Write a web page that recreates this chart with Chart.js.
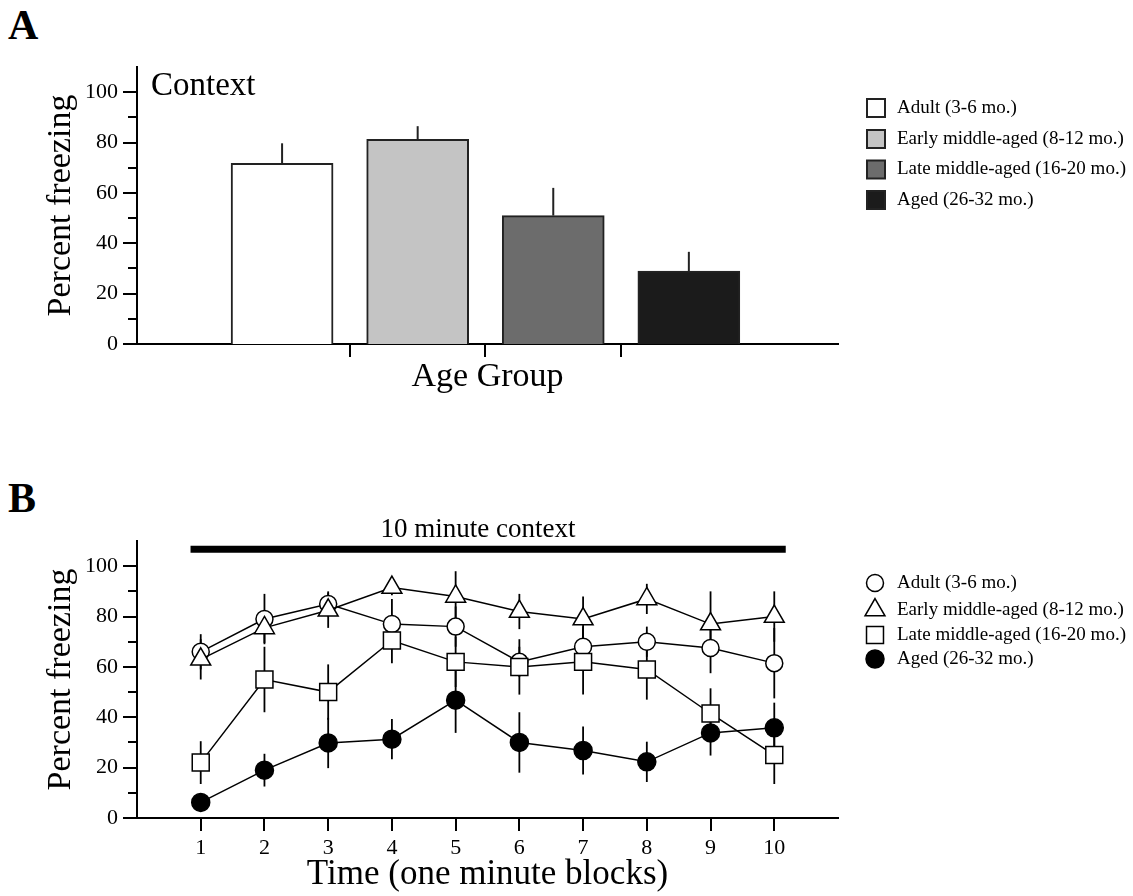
<!DOCTYPE html>
<html>
<head>
<meta charset="utf-8">
<script src="https://cdn.jsdelivr.net/npm/chart.js@4.4.1/dist/chart.umd.min.js"></script>
<style>
  body { margin: 0; background: #fff; width: 1133px; height: 896px; overflow: hidden; position: relative; }
  .panel-label { position: absolute; left: 8px; font-family: 'Liberation Serif', serif; font-weight: bold; font-size: 42px; line-height: 42px; }
  #chartA { position: absolute; left: 0; top: 0; }
  #chartB { position: absolute; left: 0; top: 440px; }
</style>
</head>
<body>
<div class="panel-label" style="top:4px">A</div>
<div class="panel-label" style="top:477px">B</div>
<canvas id="chartA" width="1133" height="440"></canvas>
<canvas id="chartB" width="1133" height="456"></canvas>
<script>
const FONT = "'Liberation Serif', 'Times New Roman', serif";

// groups shared by both panels
const groups = ['Adult (3-6 mo.)', 'Early middle-aged (8-12 mo.)', 'Late middle-aged (16-20 mo.)', 'Aged (26-32 mo.)'];

// panel A - context freezing per age group
const barPos = [1, 2, 3, 4];
const contextMean = [71.7, 81.3, 51.0, 29.0];
const contextSem = [8.0, 5.2, 11.0, 7.6];
const barColors = ['#ffffff', '#c4c4c4', '#6c6c6c', '#1b1b1b'];
const groupTicks = [1.5, 2.5, 3.5];

// y axis ticks (both panels)
const yTicks = [0, 20, 40, 60, 80, 100];
const yMinor = [10, 30, 50, 70, 90];

// panel B - freezing across the 10 minute context test
const blocks = [1, 2, 3, 4, 5, 6, 7, 8, 9, 10];
const adult = [66, 79, 85, 77, 76, 62, 68, 70, 67.5, 61.5];
const adultSem = [7, 10, 5, 10, 8, 6, 8, 6, 10, 14];
const earlyMid = [63, 75.5, 82.5, 91.5, 88, 82, 79, 87, 77, 80];
const earlyMidSem = [8, 6, 7, 3, 10, 7, 9, 6, 13, 10];
const lateMid = [22, 55, 50, 70.5, 62, 60, 62, 59, 41.5, 25];
const lateMidSem = [8.5, 13, 11, 9, 10, 11, 13, 12, 10, 11.5];
const aged = [6.2, 19, 29.8, 31.3, 46.8, 30, 26.8, 22.3, 33.8, 35.8];
const agedSem = [2, 6.5, 10, 8, 13, 12, 9.5, 8, 9, 10];
const contextSpan = [0.84, 10.18];
const contextLevel = 106.7;

function yTickPlugin() {
  return {
    id: 'yTickMarks',
    afterDraw(chart) {
      const ctx = chart.ctx, y = chart.scales.y, left = chart.chartArea.left;
      ctx.save();
      ctx.strokeStyle = '#000';
      ctx.lineWidth = 2;
      const mark = (v, len) => {
        const py = Math.round(y.getPixelForValue(v));
        ctx.beginPath(); ctx.moveTo(left - len, py); ctx.lineTo(left, py); ctx.stroke();
      };
      yTicks.forEach(v => mark(v, 14));
      yMinor.forEach(v => mark(v, 9));
      ctx.restore();
    }
  };
}

function yScale() {
  return {
    min: 0, max: 110,
    afterFit(s) { s.width = 137; },
    afterBuildTicks(s) { s.ticks = yTicks.map(v => ({ value: v })); },
    grid: { display: false, drawTicks: false },
    border: { display: true, color: '#000', width: 2 },
    ticks: { color: '#000', padding: 19, font: { family: FONT, size: 22 } },
    title: { display: true, text: 'Percent freezing', color: '#000', font: { family: FONT, size: 34 }, padding: { top: 41, bottom: 0 } }
  };
}

// ---------- Panel A ----------
new Chart(document.getElementById('chartA'), {
  type: 'bar',
  data: {
    datasets: [{
      data: barPos.map((x, i) => ({ x: x, y: contextMean[i] })),
      sem: contextSem,
      backgroundColor: barColors,
      borderColor: '#222',
      borderWidth: 2,
      barThickness: 102
    }]
  },
  options: {
    responsive: false, animation: false, events: [], devicePixelRatio: 1,
    layout: { padding: { top: 67, right: 295, left: 0, bottom: 0 } },
    plugins: { legend: { display: false }, tooltip: { enabled: false } },
    scales: {
      x: {
        type: 'linear', min: -0.07, max: 5.1, offset: false,
        afterFit(s) { s.height = 96; },
        afterBuildTicks(s) { s.ticks = groupTicks.map(v => ({ value: v })); },
        grid: { display: true, offset: false, drawOnChartArea: false, drawTicks: true, tickLength: 13, color: '#000', lineWidth: 2 },
        border: { display: true, color: '#000', width: 2 },
        ticks: { callback: () => '' },
        title: { display: true, text: 'Age Group', color: '#000', font: { family: FONT, size: 34 }, padding: { top: 0, bottom: 43 } }
      },
      y: yScale()
    }
  },
  plugins: [yTickPlugin(), {
    id: 'extrasA',
    afterDatasetsDraw(chart) {
      const ctx = chart.ctx, y = chart.scales.y;
      const meta = chart.getDatasetMeta(0);
      const ds = chart.data.datasets[0];
      ctx.save();
      ctx.strokeStyle = '#222';
      ctx.lineWidth = 2;
      meta.data.forEach((bar, i) => {
        const top = y.getPixelForValue(ds.data[i].y + ds.sem[i]);
        ctx.beginPath(); ctx.moveTo(bar.x, bar.y); ctx.lineTo(bar.x, top); ctx.stroke();
      });
      ctx.fillStyle = '#000';
      ctx.font = '33px ' + FONT;
      ctx.textBaseline = 'alphabetic';
      ctx.fillText('Context', 151, 95);
      // legend
      const rows = [108, 139, 169.5, 200];
      ctx.font = '19px ' + FONT;
      ctx.textBaseline = 'middle';
      groups.forEach((g, i) => {
        ctx.fillStyle = barColors[i];
        ctx.fillRect(867, rows[i] - 9, 18, 18);
        ctx.strokeStyle = '#222';
        ctx.lineWidth = 2;
        ctx.strokeRect(867, rows[i] - 9, 18, 18);
        ctx.fillStyle = '#000';
        ctx.fillText(g, 897, rows[i]);
      });
      ctx.restore();
    }
  }]
});

// ---------- Panel B ----------
const series = [
  { label: groups[0], values: adult, sem: adultSem, style: 'circle', radius: 8.5, fill: '#fff', order: 2 },
  { label: groups[1], values: earlyMid, sem: earlyMidSem, style: 'triangle', radius: 11.5, fill: '#fff', order: 1 },
  { label: groups[2], values: lateMid, sem: lateMidSem, style: 'rect', radius: 12, fill: '#fff', order: 0 },
  { label: groups[3], values: aged, sem: agedSem, style: 'circle', radius: 9, fill: '#000', order: 3 }
];

const datasetsB = series.map(s => ({
  type: 'line',
  label: s.label,
  data: blocks.map((b, i) => ({ x: b, y: s.values[i] })),
  sem: s.sem,
  order: s.order,
  borderColor: '#000',
  borderWidth: 1.5,
  pointStyle: s.style,
  pointRadius: s.radius,
  pointBackgroundColor: s.fill,
  pointBorderColor: '#000',
  pointBorderWidth: 1.5,
  tension: 0
}));
datasetsB.push({
  type: 'line',
  label: '10 minute context',
  data: contextSpan.map(x => ({ x: x, y: contextLevel })),
  order: 5,
  borderColor: '#000',
  borderWidth: 7,
  borderCapStyle: 'butt',
  pointRadius: 0
});

new Chart(document.getElementById('chartB'), {
  type: 'line',
  data: { datasets: datasetsB },
  options: {
    responsive: false, animation: false, events: [], devicePixelRatio: 1,
    layout: { padding: { top: 101, right: 295, left: 0, bottom: 0 } },
    plugins: { legend: { display: false }, tooltip: { enabled: false } },
    scales: {
      x: {
        type: 'linear', min: 0, max: 11,
        afterFit(s) { s.height = 78; },
        afterBuildTicks(s) { s.ticks = blocks.map(v => ({ value: v })); },
        grid: { display: true, drawOnChartArea: false, drawTicks: true, tickLength: 13, color: '#000', lineWidth: 2 },
        border: { display: true, color: '#000', width: 2 },
        ticks: { color: '#000', padding: 4, font: { family: FONT, size: 22 } },
        title: { display: true, text: 'Time (one minute blocks)', color: '#000', font: { family: FONT, size: 35 }, padding: { top: 0, bottom: 0 } }
      },
      y: yScale()
    }
  },
  plugins: [yTickPlugin(), {
    id: 'extrasB',
    beforeDatasetsDraw(chart) {
      const ctx = chart.ctx, y = chart.scales.y;
      ctx.save();
      ctx.strokeStyle = '#000';
      ctx.lineWidth = 1.8;
      chart.data.datasets.forEach((ds, di) => {
        if (!ds.sem) return;
        chart.getDatasetMeta(di).data.forEach((pt, i) => {
          const v = ds.data[i].y;
          ctx.beginPath();
          ctx.moveTo(pt.x, y.getPixelForValue(v - ds.sem[i]));
          ctx.lineTo(pt.x, y.getPixelForValue(v + ds.sem[i]));
          ctx.stroke();
        });
      });
      ctx.restore();
    },
    afterDraw(chart) {
      const ctx = chart.ctx;
      ctx.save();
      ctx.fillStyle = '#000';
      ctx.font = '27px ' + FONT;
      ctx.textAlign = 'center';
      ctx.textBaseline = 'alphabetic';
      ctx.fillText('10 minute context', 478, 97);
      // legend
      const rows = [143, 170, 195, 219];
      ctx.textAlign = 'left';
      ctx.textBaseline = 'middle';
      ctx.font = '19px ' + FONT;
      series.forEach((s, i) => {
        ctx.fillStyle = s.fill;
        ctx.strokeStyle = '#000';
        ctx.lineWidth = 1.5;
        Chart.helpers.drawPoint(ctx, { pointStyle: s.style, radius: s.radius, borderWidth: 1.5, rotation: 0 }, 875, rows[i]);
        ctx.fillStyle = '#000';
        ctx.fillText(s.label, 897, rows[i]);
      });
      ctx.restore();
    }
  }]
});
</script>
</body>
</html>
